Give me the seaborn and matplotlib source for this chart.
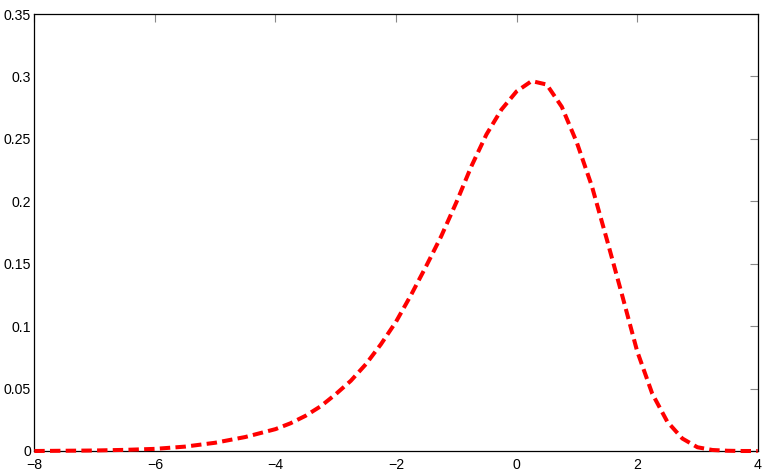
import matplotlib
matplotlib.use("Agg")
import matplotlib.pyplot as plt
import seaborn as sns
import pandas as pd
from matplotlib.ticker import FuncFormatter

x_vals = [-8.0, -7.5, -7.0, -6.5, -6.0, -5.5, -5.0, -4.5, -4.0, -3.75, -3.5, -3.25, -3.0, -2.75, -2.5, -2.25,
          -2.0, -1.75, -1.5, -1.25, -1.0, -0.75, -0.5, -0.25, 0.0, 0.25, 0.5, 0.75,
          1.0, 1.25, 1.5, 1.75, 2.0, 2.25, 2.5, 2.75, 3.0, 3.25, 3.5, 3.75, 4.0]
y_vals = [0.0000, 0.0002, 0.0004, 0.0009, 0.0017, 0.0035, 0.0066, 0.0112, 0.0175, 0.0222, 0.0282, 0.0358, 0.0455, 0.0562, 0.0695, 0.0855,
          0.1035, 0.1250, 0.1480, 0.1720, 0.1990, 0.2280, 0.2535, 0.2735, 0.2880, 0.2963, 0.2935, 0.2757,
          0.2470, 0.2120, 0.1690, 0.1250, 0.0800, 0.0460, 0.0235, 0.0100, 0.0030, 0.0008, 0.0002, 0.0000, 0.0000]

x_ticks = [-8, -6, -4, -2, 0, 2, 4]
y_ticks = [0, 0.05, 0.1, 0.15, 0.2, 0.25, 0.3, 0.35]

sns.set_style("white")
plt.rcParams['font.family'] = ['Liberation Sans', 'DejaVu Sans']
plt.rcParams['lines.scale_dashes'] = False

df = pd.DataFrame({"x": x_vals, "y": y_vals})

fig = plt.figure(figsize=(7.66, 4.71), dpi=100)
ax = fig.add_axes([34.3 / 766, 1 - 451 / 471, (757.7 - 34.3) / 766, (451 - 14) / 471])
sns.lineplot(data=df, x="x", y="y", ax=ax, color="#ff0000", linewidth=2.9)
ln = ax.lines[0]
ln.set_dashes((7.5, 3.8))
ln.set_clip_on(False)
ln.set_zorder(5)

ax.set_xlim(-8, 4)
ax.set_ylim(0, 0.35)
ax.set_xticks(x_ticks)
ax.set_yticks(y_ticks)
ax.yaxis.set_major_formatter(FuncFormatter(lambda v, p: f"{v:g}"))
ax.xaxis.set_major_formatter(FuncFormatter(lambda v, p: f"{v:g}".replace("-", "\u2212")))
ax.set_xlabel("")
ax.set_ylabel("")
ax.tick_params(direction="in", length=6, width=0.8, color="#888888", labelsize=10.2,
               top=True, right=True, labelcolor="black")
ax.tick_params(axis="x", pad=5)
ax.tick_params(axis="y", pad=2.5)
for s in ax.spines.values():
    s.set_visible(True)
    s.set_color("black")
    s.set_linewidth(0.9)

fig.savefig("out.png", dpi=100)
